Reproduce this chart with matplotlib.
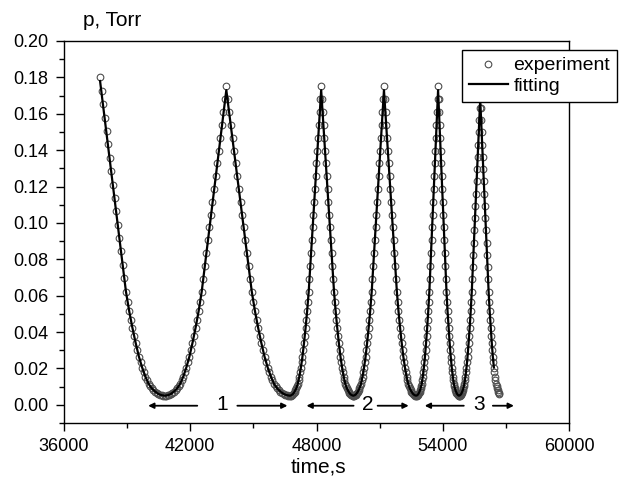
import numpy as np
import matplotlib
matplotlib.use("Agg")
import matplotlib.pyplot as plt
from matplotlib.ticker import MultipleLocator, FormatStrFormatter

plt.rcParams['font.family'] = ['Liberation Sans', 'DejaVu Sans']

# ---- data ----
start_t = 37714          # first experimental point (s)
valley_t = [40790, 46740, 49750, 52740, 54778]
peak_t = [43714, 48222, 51206, 53778, 55780]
exp_end_t = 56680
fit_end_t = 56430

# experiment (p, Torr), equally spaced samples along each branch
exp_first_fall = [0.1800, 0.1726, 0.1653, 0.1579, 0.1506, 0.1432, 0.1358, 0.1285, 0.1211,
                  0.1138, 0.1064, 0.0990, 0.0917, 0.0843, 0.0769, 0.0696, 0.0622, 0.0566,
                  0.0515, 0.0468, 0.0423, 0.0381, 0.0340, 0.0301, 0.0265, 0.0234, 0.0205,
                  0.0179, 0.0155, 0.0134, 0.0115, 0.0102, 0.0090, 0.0081, 0.0073, 0.0066,
                  0.0060, 0.0056, 0.0053, 0.0051, 0.0050]
exp_rise = [0.0051, 0.0053, 0.0056, 0.0060, 0.0066, 0.0073, 0.0081, 0.0090, 0.0102, 0.0115,
            0.0134, 0.0155, 0.0179, 0.0205, 0.0234, 0.0265, 0.0301, 0.0340, 0.0381, 0.0423,
            0.0468, 0.0515, 0.0566, 0.0622, 0.0693, 0.0763, 0.0834, 0.0904, 0.0975, 0.1045,
            0.1116, 0.1186, 0.1257, 0.1327, 0.1398, 0.1468, 0.1539, 0.1609, 0.1680, 0.1750]
exp_fall = [0.1680, 0.1609, 0.1539, 0.1468, 0.1398, 0.1327, 0.1257, 0.1186, 0.1116, 0.1045,
            0.0975, 0.0904, 0.0834, 0.0763, 0.0693, 0.0622, 0.0566, 0.0515, 0.0468, 0.0423,
            0.0381, 0.0340, 0.0301, 0.0265, 0.0234, 0.0205, 0.0179, 0.0155, 0.0134, 0.0115,
            0.0102, 0.0090, 0.0081, 0.0073, 0.0066, 0.0060, 0.0056, 0.0053, 0.0051, 0.0050]
exp_rise_last = [0.0051, 0.0053, 0.0056, 0.0060, 0.0066, 0.0073, 0.0081, 0.0090, 0.0102, 0.0115,
                 0.0134, 0.0155, 0.0179, 0.0205, 0.0234, 0.0265, 0.0301, 0.0340, 0.0381, 0.0423,
                 0.0468, 0.0515, 0.0566, 0.0622, 0.0689, 0.0757, 0.0824, 0.0892, 0.0959, 0.1027,
                 0.1094, 0.1161, 0.1229, 0.1296, 0.1364, 0.1431, 0.1498, 0.1566, 0.1633, 0.1700]
exp_fall_last = [0.1633, 0.1566, 0.1498, 0.1431, 0.1364, 0.1296, 0.1229, 0.1161, 0.1094, 0.1027,
                 0.0959, 0.0892, 0.0824, 0.0757, 0.0689, 0.0622, 0.0566, 0.0515, 0.0468, 0.0423,
                 0.0381, 0.0340, 0.0301, 0.0265, 0.0234, 0.0205, 0.0179, 0.0155, 0.0134, 0.0115,
                 0.0102, 0.0090, 0.0081, 0.0073, 0.0066, 0.0060]

# fitting curve (p, Torr)
fit_first_fall = [0.1780, 0.1635, 0.1490, 0.1346, 0.1201, 0.1056, 0.0911, 0.0767, 0.0622, 0.0515,
                  0.0423, 0.0340, 0.0265, 0.0205, 0.0155, 0.0115, 0.0090, 0.0073, 0.0060, 0.0053,
                  0.0050]
fit_rise = [0.0053, 0.0060, 0.0073, 0.0090, 0.0115, 0.0155, 0.0205, 0.0265, 0.0340, 0.0423,
            0.0515, 0.0622, 0.0761, 0.0899, 0.1038, 0.1176, 0.1315, 0.1453, 0.1592, 0.1730]
fit_fall = [0.1592, 0.1453, 0.1315, 0.1176, 0.1038, 0.0899, 0.0761, 0.0622, 0.0515, 0.0423,
            0.0340, 0.0265, 0.0205, 0.0155, 0.0115, 0.0090, 0.0073, 0.0060, 0.0053, 0.0050]
fit_rise_last = [0.0053, 0.0060, 0.0073, 0.0090, 0.0115, 0.0155, 0.0205, 0.0265, 0.0340, 0.0423,
                 0.0515, 0.0622, 0.0754, 0.0886, 0.1019, 0.1151, 0.1283, 0.1415, 0.1548, 0.1680]
fit_fall_last = [0.1548, 0.1415, 0.1283, 0.1151, 0.1019, 0.0886, 0.0754, 0.0622, 0.0515, 0.0423,
                 0.0340, 0.0265, 0.0205]

x_ticks = [36000, 42000, 48000, 54000, 60000]
y_ticks = [0.00, 0.02, 0.04, 0.06, 0.08, 0.10, 0.12, 0.14, 0.16, 0.18, 0.20]

# stage annotations: (left arrow tail, left arrow head, label x, right arrow tail, right arrow head)
stage_labels = ['1', '2', '3']
stage_arrows = [(42333, 40000, 43524, 44238, 46619),
                (49762, 47524, 50429, 50905, 52381),
                (55000, 53143, 55714, 56381, 57381)]
stage_y = -0.0005


def assemble(first, rise, fall, rise_last, fall_last, end_t):
    knots = [start_t, valley_t[0], peak_t[0], valley_t[1], peak_t[1], valley_t[2],
             peak_t[2], valley_t[3], peak_t[3], valley_t[4], peak_t[4], end_t]
    segs = [first, rise, fall, rise, fall, rise, fall, rise, fall, rise_last, fall_last]
    ts, ps = [], []
    for i, seg in enumerate(segs):
        if i == 0:
            t = np.linspace(knots[0], knots[1], len(seg))
        else:
            t = np.linspace(knots[i], knots[i + 1], len(seg) + 1)[1:]
        ts.append(t)
        ps.append(np.asarray(seg))
    return np.concatenate(ts), np.concatenate(ps)


exp_t, exp_p = assemble(exp_first_fall, exp_rise, exp_fall, exp_rise_last, exp_fall_last, exp_end_t)
fit_t, fit_p = assemble(fit_first_fall, fit_rise, fit_fall, fit_rise_last, fit_fall_last, fit_end_t)

# ---- figure ----
fig = plt.figure(figsize=(6.24, 4.91), dpi=100)
ax = fig.add_axes([64 / 624, 68 / 491, 505 / 624, 382 / 491])

ax.plot(exp_t, exp_p, linestyle='none', marker='o', markersize=4.8,
        markerfacecolor='none', markeredgecolor='0.3', markeredgewidth=0.8,
        label='experiment', zorder=2)
ax.plot(fit_t, fit_p, color='black', linewidth=1.6, label='fitting', zorder=3)

for lab, (lt, lh, lx, rt, rh) in zip(stage_labels, stage_arrows):
    for tail, head in ((lt, lh), (rt, rh)):
        ax.annotate('', xy=(head, stage_y), xytext=(tail, stage_y),
                    arrowprops=dict(arrowstyle='-|>', mutation_scale=8, lw=1.3,
                                    color='black', shrinkA=0, shrinkB=0))
    ax.text(lx, stage_y + 0.0008, lab, ha='center', va='center', fontsize=15)

ax.set_xlim(36000, 60000)
ax.set_ylim(-0.01, 0.20)
ax.set_xticks(x_ticks)
ax.set_xticklabels([str(v) for v in x_ticks])
ax.set_yticks(y_ticks)
ax.yaxis.set_major_formatter(FormatStrFormatter('%.2f'))
ax.xaxis.set_minor_locator(MultipleLocator(3000))
ax.yaxis.set_minor_locator(MultipleLocator(0.01))
ax.tick_params(which='major', direction='out', length=6, width=1, labelsize=13, pad=5,
               top=False, right=False)
ax.tick_params(which='minor', direction='out', length=3.5, width=1, top=False, right=False)
for s in ax.spines.values():
    s.set_linewidth(1.0)

fig.text(112 / 624, 1 - 20 / 491, 'p, Torr', ha='center', va='center', fontsize=15)
fig.text(318 / 624, 1 - 467 / 491, 'time,s', ha='center', va='center', fontsize=15)

leg = ax.legend(loc='upper right', bbox_to_anchor=(617 / 505 - 64 / 505, (423 - 50) / 382),
                frameon=True, fancybox=False, edgecolor='black', framealpha=1,
                fontsize=14, handlelength=2.0, handletextpad=0.3, borderpad=0.35,
                labelspacing=0.15, borderaxespad=0)
leg.get_frame().set_linewidth(1.0)
leg.set_zorder(5)

fig.savefig('out.png', dpi=100)
